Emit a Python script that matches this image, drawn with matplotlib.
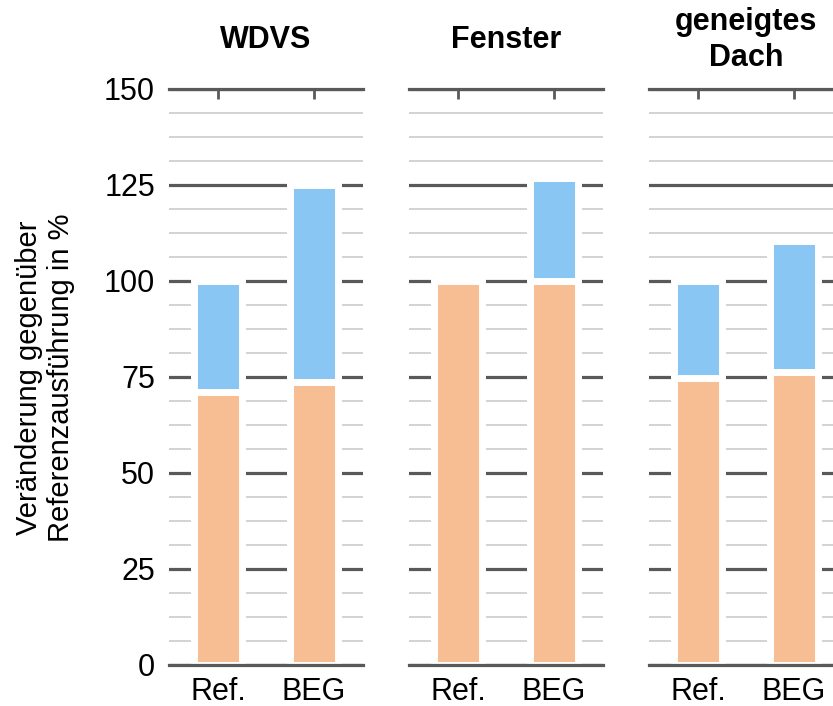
import numpy as np
import matplotlib.pyplot as plt

plt.rcParams['font.family'] = ['Liberation Sans', 'DejaVu Sans']

# donnees
panels = ["WDVS", "Fenster", "geneigtes\nDach"]
categories = ["Ref.", "BEG"]
orange_vals = [[71, 73.7], [100, 100], [74.8, 76.3]]
blue_vals = [[29, 51.3], [0, 26.9], [25.2, 34]]
yticks = [0, 25, 50, 75, 100, 125, 150]

col_orange = "#F6BE92"
col_blue = "#89C6F4"
dark = "#595959"
light = "#CCCCCC"

fig = plt.figure(figsize=(8.33, 7.06), dpi=100)

lefts = [169/833, 409/833, 649/833]
bottom = 41/706
height = 576/706
width = 194/833

x = np.arange(len(categories))
for i, name in enumerate(panels):
    ax = fig.add_axes([lefts[i], bottom, width, height])
    # lignes de grille manuelles
    for v in np.arange(0, 150.1, 6.25):
        if v % 25 == 0:
            ax.axhline(v, color=dark, lw=2.3, zorder=0)
        else:
            ax.axhline(v, color=light, lw=1.2, zorder=0)
    ax.bar(x, orange_vals[i], 0.5, color=col_orange, edgecolor="white", lw=5, zorder=2)
    b = np.array(blue_vals[i])
    ax.bar(x[b > 0], b[b > 0], 0.5, bottom=np.array(orange_vals[i])[b > 0],
           color=col_blue, edgecolor="white", lw=5, zorder=2)
    ax.set_xlim(-0.51, 1.51)
    ax.set_ylim(0, 150)
    for s in ["left", "right"]:
        ax.spines[s].set_visible(False)
    for s in ["top", "bottom"]:
        ax.spines[s].set_color(dark)
        ax.spines[s].set_linewidth(2.3)
        ax.spines[s].set_zorder(3)
    ax.set_xticks(x)
    ax.set_xticklabels(categories, fontsize=22)
    ax.tick_params(axis="x", direction="in", length=7, width=2, color=dark,
                   top=True, pad=9)
    ax.set_yticks(yticks)
    if i == 0:
        ax.set_yticklabels([str(t) for t in yticks], fontsize=22)
        ax.tick_params(axis="y", length=0, pad=10)
    else:
        ax.tick_params(axis="y", length=0, labelleft=False)
    fig.text(lefts[i] + width/2, 1 - 40/706, name, ha="center", va="center",
             fontsize=22, fontweight="bold", linespacing=1.3)

fig.text(45/833, 1 - 378/706, "Veränderung gegenüber\nReferenzausführung in %",
         rotation=90, ha="center", va="center", fontsize=21, multialignment="center")

plt.savefig("out.png", dpi=100)
